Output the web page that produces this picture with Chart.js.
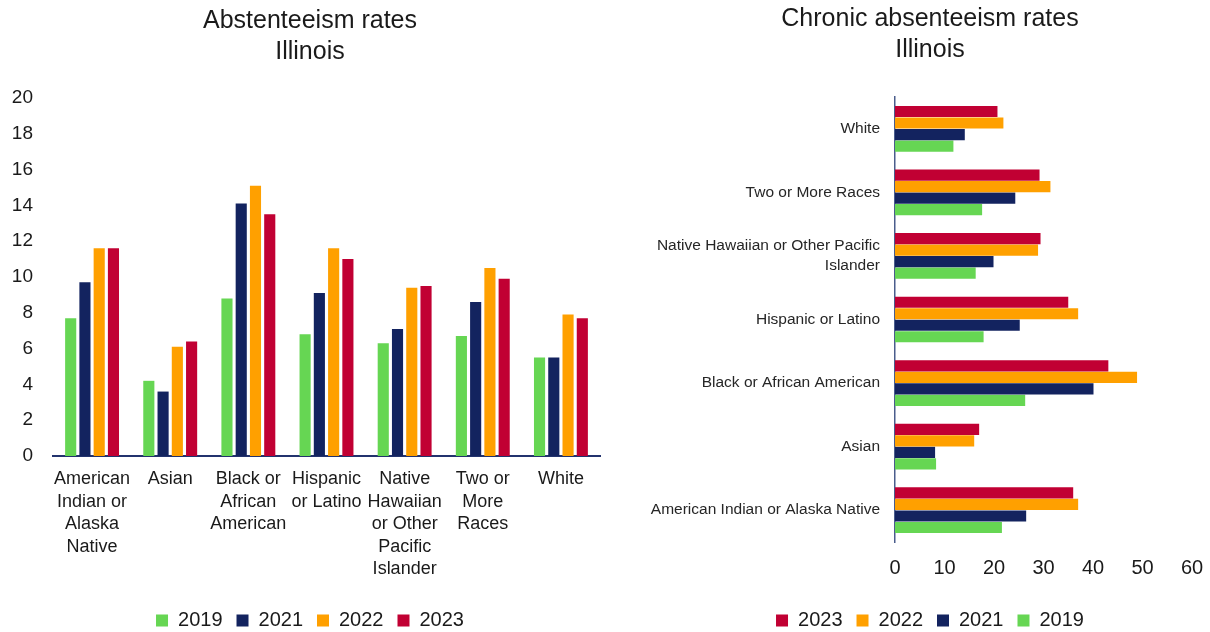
<!DOCTYPE html>
<html>
<head>
<meta charset="utf-8">
<script src="https://cdn.jsdelivr.net/npm/chart.js@4.4.1/dist/chart.umd.min.js"></script>
<style>
  html, body { margin: 0; padding: 0; background: #fff; }
  body { width: 1210px; height: 632px; position: relative; overflow: hidden; }
  .box { position: absolute; top: 0; height: 632px; }
  #leftBox { left: 0; width: 620px; }
  #rightBox { left: 650px; width: 560px; }
</style>
</head>
<body>
<div class="box" id="leftBox"><canvas id="rateChart"></canvas></div>
<div class="box" id="rightBox"><canvas id="chronicChart"></canvas></div>
<script>
// Absenteeism rates (left chart)
const rateGroups = [
    ["American", "Indian or", "Alaska", "Native"],
    ["Asian"],
    ["Black or", "African", "American"],
    ["Hispanic", "or Latino"],
    ["Native", "Hawaiian", "or Other", "Pacific", "Islander"],
    ["Two or", "More", "Races"],
    ["White"]
];
const rate2019 = [7.7, 4.2, 8.8, 6.8, 6.3, 6.7, 5.5];
const rate2021 = [9.7, 3.6, 14.1, 9.1, 7.1, 8.6, 5.5];
const rate2022 = [11.6, 6.1, 15.1, 11.6, 9.4, 10.5, 7.9];
const rate2023 = [11.6, 6.4, 13.5, 11.0, 9.5, 9.9, 7.7];

// Chronic absenteeism rates (right chart), listed top to bottom
const chronicGroups = [
    "White",
    "Two or More Races",
    ["Native Hawaiian or Other Pacific", "Islander"],
    "Hispanic or Latino",
    "Black or African American",
    "Asian",
    "American Indian or Alaska Native"
];
const chronic2023 = [20.7, 29.2, 29.4, 35.0, 43.1, 17.0, 36.0];
const chronic2022 = [21.9, 31.4, 28.9, 37.0, 48.9, 16.0, 37.0];
const chronic2021 = [14.1, 24.3, 19.9, 25.2, 40.1, 8.1, 26.5];
const chronic2019 = [11.8, 17.6, 16.3, 17.9, 26.3, 8.3, 21.6];

const colors = {
    "2019": "#66d653",
    "2021": "#13235f",
    "2022": "#ffa000",
    "2023": "#c10033"
};

Chart.defaults.font.family = "'Liberation Sans', Arial, sans-serif";
Chart.defaults.color = "#1a1a1a";
Chart.defaults.animation = false;

function legendOptions() {
    return {
        position: "bottom",
        labels: {
            boxWidth: 12,
            boxHeight: 12,
            padding: 14,
            font: { size: 20 },
            color: "#1a1a1a"
        }
    };
}

function titleOptions(lines, top, bottom) {
    return {
        display: true,
        text: lines,
        color: "#1a1a1a",
        font: { size: 25, weight: "normal", lineHeight: 1.24 },
        padding: { top: top, bottom: bottom }
    };
}

// empty axis on the right, only to keep a margin without moving the title
function spacerAxis(width) {
    return {
        type: "linear",
        position: "right",
        display: true,
        grid: { display: false, drawTicks: false },
        border: { display: false },
        ticks: { display: false },
        afterFit: function (axis) { axis.width = width; }
    };
}

// Left: vertical grouped bars
new Chart(document.getElementById("rateChart"), {
    type: "bar",
    data: {
        labels: rateGroups,
        datasets: [
            { label: "2019", data: rate2019, backgroundColor: colors["2019"] },
            { label: "2021", data: rate2021, backgroundColor: colors["2021"] },
            { label: "2022", data: rate2022, backgroundColor: colors["2022"] },
            { label: "2023", data: rate2023, backgroundColor: colors["2023"] }
        ]
    },
    options: {
        responsive: true,
        maintainAspectRatio: false,
        layout: { padding: { bottom: -8.5 } },
        datasets: { bar: { categoryPercentage: 0.73, barPercentage: 0.78 } },
        plugins: {
            title: titleOptions(["Abstenteeism rates", "Illinois"], 5.5, 30.5),
            legend: legendOptions(),
            tooltip: { enabled: false }
        },
        scales: {
            x: {
                grid: { display: false, drawTicks: false },
                border: { display: true, color: "#23336e", width: 2 },
                ticks: {
                    padding: 12,
                    maxRotation: 0,
                    autoSkip: false,
                    font: { size: 18, lineHeight: 1.25 },
                    color: "#1a1a1a"
                },
                afterFit: function (axis) { axis.height = 140.5; }
            },
            y: {
                min: 0,
                max: 20,
                grid: { display: false, drawTicks: false },
                border: { display: false },
                ticks: {
                    stepSize: 2,
                    padding: 20,
                    font: { size: 19 },
                    color: "#1a1a1a"
                },
                afterFit: function (axis) { axis.width = 53; }
            },
            pad: spacerAxis(20)
        }
    }
});

// Right: horizontal grouped bars
new Chart(document.getElementById("chronicChart"), {
    type: "bar",
    data: {
        labels: chronicGroups,
        datasets: [
            { label: "2023", data: chronic2023, backgroundColor: colors["2023"] },
            { label: "2022", data: chronic2022, backgroundColor: colors["2022"] },
            { label: "2021", data: chronic2021, backgroundColor: colors["2021"] },
            { label: "2019", data: chronic2019, backgroundColor: colors["2019"] }
        ]
    },
    options: {
        indexAxis: "y",
        responsive: true,
        maintainAspectRatio: false,
        layout: { padding: { bottom: -8.5 } },
        datasets: { bar: { categoryPercentage: 0.725, barPercentage: 0.97 } },
        plugins: {
            title: titleOptions(["Chronic absenteeism rates", "Illinois"], 3.5, 31.5),
            legend: legendOptions(),
            tooltip: { enabled: false }
        },
        scales: {
            x: {
                min: 0,
                max: 60,
                grid: { display: false, drawTicks: false },
                border: { display: false },
                ticks: {
                    stepSize: 10,
                    padding: 14,
                    font: { size: 20 },
                    color: "#1a1a1a"
                },
                afterFit: function (axis) {
                    axis.height = 54.5;
                    // let the spacer axis decide the right margin
                    axis.paddingLeft = 0;
                    axis.paddingRight = 0;
                }
            },
            y: {
                grid: { display: false, drawTicks: false },
                border: { display: true, color: "#4a5d8c", width: 1.5 },
                ticks: {
                    padding: 15,
                    autoSkip: false,
                    font: { size: 15.5, lineHeight: 1.3 },
                    color: "#262626"
                },
                afterFit: function (axis) { axis.width = 245; }
            },
            pad: spacerAxis(18)
        }
    }
});
</script>
</body>
</html>
